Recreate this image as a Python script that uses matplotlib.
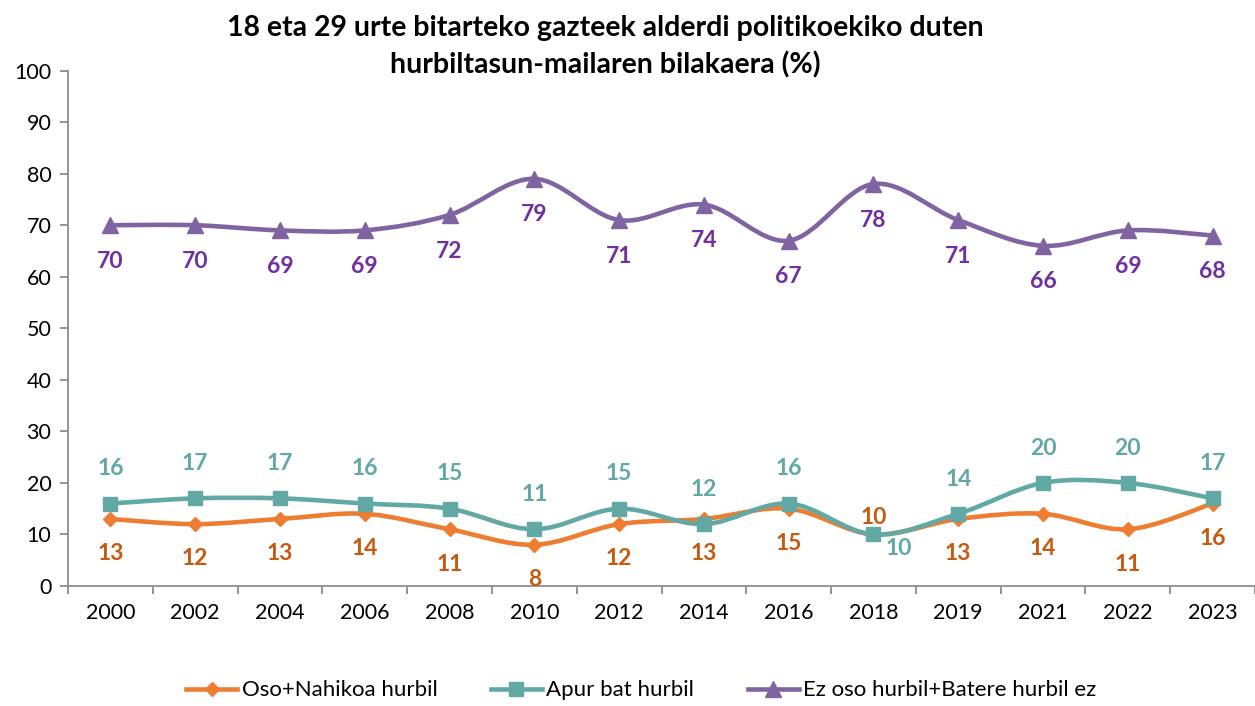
import numpy as np
import matplotlib
matplotlib.use("Agg")
import matplotlib.pyplot as plt
from matplotlib.path import Path
from matplotlib.patches import PathPatch
from matplotlib.lines import Line2D

plt.rcParams['font.family'] = ['Lato', 'DejaVu Sans']

years = ["2000", "2002", "2004", "2006", "2008", "2010", "2012",
         "2014", "2016", "2018", "2019", "2021", "2022", "2023"]
oso_nahikoa = [13, 12, 13, 14, 11, 8, 12, 13, 15, 10, 13, 14, 11, 16]
apur_bat = [16, 17, 17, 16, 15, 11, 15, 12, 16, 10, 14, 20, 20, 17]
ez_hurbil = [70, 70, 69, 69, 72, 79, 71, 74, 67, 78, 71, 66, 69, 68]

series_names = ["Oso+Nahikoa hurbil", "Apur bat hurbil", "Ez oso hurbil+Batere hurbil ez"]
line_colors = ["#ED7D31", "#62A9A6", "#8064A2"]
label_colors = ["#C55A11", "#62A9A6", "#7030A0"]
markers = ["D", "s", "^"]
marker_sizes = [7.5, 10.5, 11]
label_offsets = [-25, 25, -26]


def smooth_path(x, y):
    # Excel-style smoothed line: cubic Bezier segments with Catmull-Rom control points
    pts = np.column_stack([x, y]).astype(float)
    ext = np.vstack([pts[0], pts, pts[-1]])
    verts = [pts[0]]
    codes = [Path.MOVETO]
    for i in range(len(pts) - 1):
        p0, p1, p2, p3 = ext[i], ext[i + 1], ext[i + 2], ext[i + 3]
        c1 = p1 + (p2 - p0) / 6.0
        c2 = p2 - (p3 - p1) / 6.0
        verts += [c1, c2, p2]
        codes += [Path.CURVE4] * 3
    return Path(verts, codes)


fig = plt.figure(figsize=(12.55, 7.06), dpi=100)
ax = fig.add_axes([0.0542, 0.170, 0.9458, 0.730])

x = np.arange(len(years))
all_series = [oso_nahikoa, apur_bat, ez_hurbil]

for vals, lc, tc, mk, ms, off in zip(all_series, line_colors, label_colors,
                                     markers, marker_sizes, label_offsets):
    patch = PathPatch(smooth_path(x, vals), facecolor="none", edgecolor=lc,
                      lw=3.3, capstyle="round", joinstyle="round", zorder=3)
    ax.add_patch(patch)
    ax.plot(x, vals, linestyle="none", marker=mk, markersize=ms, color=lc, zorder=4)
    for xi, v in zip(x, vals):
        dx, dy = 0, off
        # keep the two overlapping 2018 labels apart
        if years[xi] == "2018" and vals is oso_nahikoa:
            dy = 12
        if years[xi] == "2018" and vals is apur_bat:
            dx, dy = 18, -10
        ax.annotate(str(v), (xi, v), xytext=(dx, dy), textcoords="offset points",
                    ha="center", va="center", fontsize=16.5, fontweight="bold",
                    color=tc, zorder=5)

ax.set_xlim(-0.5, len(years) - 0.5)
ax.set_ylim(0, 100)
ax.set_yticks(np.arange(0, 101, 10))
ax.set_xticks(x)
ax.set_xticklabels(years)
ax.set_xticks(np.arange(-0.5, len(years), 1), minor=True)
ax.tick_params(axis="x", which="major", length=0, pad=12, labelsize=15.5, colors="#000000")
ax.tick_params(axis="x", which="minor", length=6, width=1.3, color="#8C8C8C")
ax.tick_params(axis="y", length=6, width=1.3, color="#8C8C8C", labelsize=15.5, pad=6)

for side in ["top", "right"]:
    ax.spines[side].set_visible(False)
for side in ["left", "bottom"]:
    ax.spines[side].set_color("#8C8C8C")
    ax.spines[side].set_linewidth(1.3)

fig.text(0.482, 0.96, "18 eta 29 urte bitarteko gazteek alderdi politikoekiko duten",
         ha="center", va="center", fontsize=20.5, fontweight="bold")
fig.text(0.482, 0.908, "hurbiltasun-mailaren bilakaera (%)",
         ha="center", va="center", fontsize=20.5, fontweight="bold")

handles = [Line2D([0], [0], color=c, lw=3.3, marker=m, markersize=s)
           for c, m, s in zip(line_colors, markers, marker_sizes)]
fig.legend(handles, series_names, loc="center", bbox_to_anchor=(0.511, 0.022),
           ncol=3, frameon=False, fontsize=16, handlelength=2.3,
           handletextpad=0.2, columnspacing=2.4)

fig.savefig("out.png", dpi=100)
